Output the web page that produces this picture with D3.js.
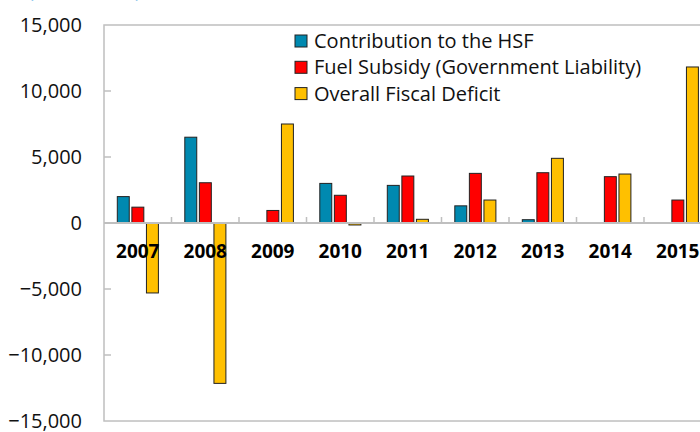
<!DOCTYPE html>
<html>
<head>
<meta charset="utf-8">
<script src="https://cdn.jsdelivr.net/npm/d3@7"></script>
<style>
  body { margin: 0; background: #fff; }
  svg { display: block; font-family: "Open Sans", "Noto Sans", sans-serif; }
</style>
</head>
<body>
<svg class="chartContainer" width="700" height="432"></svg>
<script>
// data
var years = ["2007", "2008", "2009", "2010", "2011", "2012", "2013", "2014", "2015"];
var seriesNames = ["Contribution to the HSF", "Fuel Subsidy (Government Liability)", "Overall Fiscal Deficit"];
var hsf     = [2000, 6500, 0, 3000, 2850, 1300, 250, 0, 0];
var subsidy = [1200, 3050, 950, 2100, 3560, 3760, 3810, 3510, 1740];
var deficit = [-5300, -12150, 7500, -150, 280, 1740, 4900, 3710, 11820];
var yTicks  = [-15000, -10000, -5000, 0, 5000, 10000, 15000];
var colors  = ["#0089B0", "#FF0000", "#FFC000"];

var svg = d3.select(".chartContainer");
svg.selectAll("*").remove();

// plot area (right side runs past the window edge like the original)
var plotLeft = 104, plotTop = 25, plotBottom = 421;
var catW = 67.5;
var plotRight = plotLeft + catW * years.length;

// x scales: one band per year, then one per series inside it
var x0 = d3.scaleBand().domain(years).range([plotLeft, plotRight]);
var x1 = d3.scaleBand().domain([0, 1, 2]).range([13.3, 54.4]).paddingInner(0.18);
var y = d3.scaleLinear().domain([-15000, 15000]).range([plotBottom, plotTop]);

var fmt = d3.format(",");

// title, mostly cut off at the top edge
svg.append("text")
  .attr("x", 28)
  .attr("y", -3)
  .style("font-size", "20px")
  .style("fill", "#1F9BDE")
  .text("(TT$ Million)");

// plot border
svg.append("rect")
  .attr("x", plotLeft)
  .attr("y", plotTop)
  .attr("width", plotRight - plotLeft)
  .attr("height", plotBottom - plotTop)
  .style("fill", "none")
  .style("stroke", "#BFBFBF")
  .style("stroke-width", "1.5");

// y axis labels
var yAxis = d3.axisLeft(y).tickValues(yTicks).tickFormat(fmt).tickSize(0).tickPadding(22);
var gy = svg.append("g").attr("transform", "translate(" + plotLeft + ",0)").call(yAxis);
gy.select(".domain").remove();
gy.selectAll("text")
  .style("font-size", "20px")
  .style("font-family", "\"Open Sans\", \"Noto Sans\", sans-serif")
  .style("fill", "#111");

// inside ticks on the y axis
svg.selectAll(".ytick")
  .data(yTicks.slice(1, -1))
  .enter().append("line")
  .attr("x1", plotLeft).attr("x2", plotLeft + 7)
  .attr("y1", function (d) { return y(d); })
  .attr("y2", function (d) { return y(d); })
  .style("stroke", "#BFBFBF")
  .style("stroke-width", "1.5");

// bars
var rows = years.map(function (yr, i) { return [hsf[i], subsidy[i], deficit[i]]; });

var groups = svg.selectAll(".grp")
  .data(rows)
  .enter().append("g")
  .attr("transform", function (d, i) { return "translate(" + x0(years[i]) + ",0)"; });

groups.selectAll("rect")
  .data(function (d) {
    return d.map(function (v, k) { return { k: k, v: v }; })
            .filter(function (e) { return e.v !== 0; });
  })
  .enter().append("rect")
  .attr("x", function (d) { return x1(d.k); })
  .attr("width", x1.bandwidth())
  .attr("y", function (d) { return y(Math.max(0, d.v)); })
  .attr("height", function (d) { return Math.abs(y(d.v) - y(0)); })
  .style("fill", function (d) { return colors[d.k]; })
  .style("stroke", "#222")
  .style("stroke-width", "1");

// zero axis with category ticks pointing up
svg.append("line")
  .attr("x1", plotLeft).attr("x2", plotRight)
  .attr("y1", y(0)).attr("y2", y(0))
  .style("stroke", "#BFBFBF")
  .style("stroke-width", "2");

svg.selectAll(".xtick")
  .data(years.slice(1))
  .enter().append("line")
  .attr("x1", function (d) { return x0(d); })
  .attr("x2", function (d) { return x0(d); })
  .attr("y1", y(0)).attr("y2", y(0) - 6)
  .style("stroke", "#BFBFBF")
  .style("stroke-width", "1.5");

// year labels
svg.selectAll(".xlab")
  .data(years)
  .enter().append("text")
  .attr("x", function (d) { return x0(d) + catW / 2; })
  .attr("y", 258)
  .attr("text-anchor", "middle")
  .style("font-size", "19px")
  .style("font-weight", "bold")
  .style("fill", "#000")
  .text(function (d) { return d; });

// legend
var lg = svg.selectAll(".lg")
  .data(seriesNames)
  .enter().append("g")
  .attr("transform", function (d, i) { return "translate(295," + (41 + i * 26.3) + ")"; });

lg.append("rect")
  .attr("x", 0).attr("y", -6)
  .attr("width", 12).attr("height", 12)
  .style("fill", function (d, i) { return colors[i]; })
  .style("stroke", "#222")
  .style("stroke-width", "1");

lg.append("text")
  .attr("x", 19)
  .attr("y", 0)
  .attr("dy", "0.35em")
  .style("font-size", "20px")
  .style("fill", "#111")
  .text(function (d) { return d; });
</script>
</body>
</html>
